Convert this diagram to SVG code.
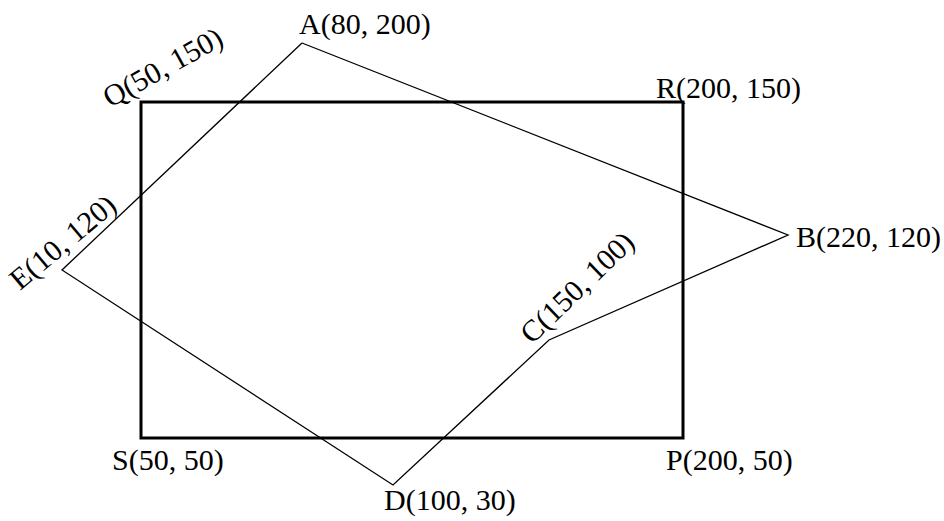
<svg xmlns="http://www.w3.org/2000/svg" width="944" height="521" viewBox="0 0 944 521">
<style>
text{font-family:"Liberation Serif","Times New Roman",serif;font-size:30px;fill:#000}
.rect{fill:none;stroke:#000;stroke-width:3}
.poly{fill:none;stroke:#000;stroke-width:1.3}
</style>
<rect width="944" height="521" fill="#fff"/>
<g id="rectangle"><rect class="rect" x="141" y="102" width="542" height="336"/></g>
<g id="connectors">
<polyline class="poly" points="302,43 788,235 549,340 393,485 62,270 302,43"/>
</g>
<g id="Q"><text transform="translate(110,108) rotate(-29)">Q(50, 150)</text></g>
<g id="R"><text x="656" y="98">R(200, 150)</text></g>
<g id="S"><text x="112" y="470">S(50, 50)</text></g>
<g id="P"><text x="666" y="470">P(200, 50)</text></g>
<g id="A"><text x="299" y="34">A(80, 200)</text></g>
<g id="B"><text x="796" y="247">B(220, 120)</text></g>
<g id="C"><text transform="translate(532,345) rotate(-44)">C(150, 100)</text></g>
<g id="D"><text x="384" y="510">D(100, 30)</text></g>
<g id="E"><text transform="translate(20,291) rotate(-40)">E(10, 120)</text></g>
</svg>
